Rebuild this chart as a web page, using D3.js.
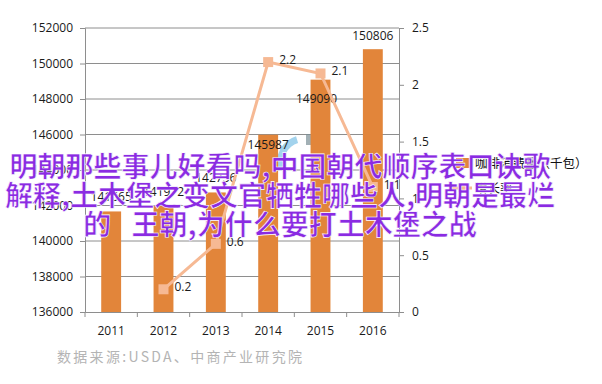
<!DOCTYPE html>
<html>
<head>
<meta charset="utf-8">
<script src="https://cdn.jsdelivr.net/npm/d3@7"></script>
<style>
  body { margin: 0; background: #fff; }
  svg { display: block; }
</style>
</head>
<body>
<svg id="chart" width="602" height="384"></svg>
<script>
// data
const years = ["2011", "2012", "2013", "2014", "2015", "2016"];
const consumption = [141665, 141972, 142736, 145987, 149090, 150806];
const growth = [null, 0.2, 0.6, 2.2, 2.1, 1.1];
const leftTicks = [136000, 138000, 140000, 142000, 144000, 146000, 148000, 150000, 152000];
const rightTicks = [0, 0.5, 1, 1.5, 2, 2.5];
const legendNames = ["咖啡消费量（千包）", "增长率"];
const titleLines = ["明朝那些事儿好看吗,中国朝代顺序表口诀歌", "解释,土木堡之变文官牺牲哪些人,明朝是最烂", "的 王朝,为什么要打土木堡之战"];
const source = "数据来源:USDA、中商产业研究院";

const svg = d3.select("#chart");
const plotL = 85, plotR = 399, plotT = 28, plotB = 312;
const barColor = "#e2853a", lineColor = "#f6b994", gridColor = "#8e8e8e";
const numFont = "'Open Sans', sans-serif";

const x = d3.scaleBand().domain(years).range([plotL, plotR]).padding(0);
const y = d3.scaleLinear().domain([136000, 152000]).range([plotB, plotT]);
const y2 = d3.scaleLinear().domain([0, 2.5]).range([plotB, plotT]);

// gridlines
svg.append("g").selectAll("line")
  .data(leftTicks.slice(1))
  .enter().append("line")
  .attr("x1", plotL).attr("x2", plotR)
  .attr("y1", d => y(d)).attr("y2", d => y(d))
  .attr("stroke", gridColor).attr("stroke-width", 1);

// left axis
const gl = svg.append("g").attr("transform", `translate(${plotL},0)`)
  .call(d3.axisLeft(y).tickValues(leftTicks).tickSize(5).tickPadding(7).tickFormat(d3.format("d")));
// right axis
const gr = svg.append("g").attr("transform", `translate(${plotR},0)`)
  .call(d3.axisRight(y2).tickValues(rightTicks).tickSize(5).tickPadding(8).tickFormat(d => d));
// bottom axis
const gb = svg.append("g").attr("transform", `translate(0,${plotB})`)
  .call(d3.axisBottom(x).tickSize(0).tickPadding(14));
svg.append("g").selectAll("line")
  .data(d3.range(years.length + 1))
  .enter().append("line")
  .attr("x1", i => plotL + i * x.step()).attr("x2", i => plotL + i * x.step())
  .attr("y1", plotB).attr("y2", plotB + 5)
  .attr("stroke", gridColor);

[gl, gr, gb].forEach(g => {
  g.select(".domain").attr("stroke", gridColor);
  g.selectAll(".tick line").attr("stroke", gridColor);
  g.selectAll("text").attr("fill", "#1a1a1a").style("font-family", numFont).style("font-size", "12px");
});

// faint watermark arc
svg.append("path")
  .attr("d", d3.arc()({ innerRadius: 20, outerRadius: 27, startAngle: -1.9, endAngle: -0.3 }))
  .attr("transform", "translate(304,162)")
  .attr("fill", "#8cc8e8").attr("opacity", 0.8);
svg.append("rect").attr("x", 306).attr("y", 134).attr("width", 12).attr("height", 11)
  .attr("fill", "#7a8e95").attr("opacity", 0.7);

// bars
const bw = x.bandwidth() * 0.38;
svg.append("g").selectAll("rect")
  .data(consumption)
  .enter().append("rect")
  .attr("x", (d, i) => x(years[i]) + x.bandwidth() / 2 - bw / 2)
  .attr("width", bw)
  .attr("y", d => y(d))
  .attr("height", d => plotB - y(d))
  .attr("fill", barColor);

// bar labels (excel nudged two of them down)
const barLabelDy = [-10, -10, -10, 14, 23, -9];
svg.append("g").selectAll("text")
  .data(consumption)
  .enter().append("text")
  .attr("x", (d, i) => x(years[i]) + x.bandwidth() / 2 + (i == 4 ? -4 : 0))
  .attr("y", (d, i) => y(d) + barLabelDy[i])
  .attr("text-anchor", "middle")
  .style("font-family", numFont).style("font-size", "12px")
  .attr("fill", "#1a1a1a")
  .text(d => d);

// growth line
const pts = growth.map((g, i) => ({ year: years[i], v: g })).filter(d => d.v != null);
const line = d3.line()
  .x(d => x(d.year) + x.bandwidth() / 2)
  .y(d => y2(d.v));
svg.append("path").datum(pts)
  .attr("d", line)
  .attr("fill", "none")
  .attr("stroke", lineColor)
  .attr("stroke-width", 3);
svg.append("g").selectAll("rect")
  .data(pts)
  .enter().append("rect")
  .attr("x", d => x(d.year) + x.bandwidth() / 2 - 5)
  .attr("y", d => y2(d.v) - 5)
  .attr("width", 10).attr("height", 10)
  .attr("fill", lineColor);
svg.append("g").selectAll("text")
  .data(pts)
  .enter().append("text")
  .attr("x", d => x(d.year) + x.bandwidth() / 2 + 11)
  .attr("y", d => y2(d.v) + 2)
  .style("font-family", numFont).style("font-size", "12px")
  .attr("fill", "#1a1a1a")
  .text(d => d.v);

// legend
const legend = svg.append("g").attr("transform", "translate(456,163)");
legend.append("rect").attr("x", 0).attr("y", -5).attr("width", 14).attr("height", 10).attr("fill", barColor);
legend.append("line").attr("x1", -4).attr("x2", 16).attr("y1", 25).attr("y2", 25)
  .attr("stroke", lineColor).attr("stroke-width", 3);
legend.append("rect").attr("x", 2).attr("y", 21).attr("width", 8).attr("height", 8).attr("fill", lineColor);
legend.selectAll("text.lg")
  .data(legendNames)
  .enter().append("text")
  .attr("x", 19)
  .attr("y", (d, i) => 5 + i * 25)
  .style("font-family", "'Noto Sans CJK SC', sans-serif").style("font-size", "12.5px")
  .attr("fill", "#111")
  .text(d => d);

// source note
svg.append("text")
  .attr("x", 57).attr("y", 362)
  .style("font-family", "'Noto Sans CJK SC', sans-serif").style("font-size", "14px")
  .style("letter-spacing", "2.3px")
  .attr("fill", "#b4b4b4")
  .text(source);

// big overlaid title
svg.append("g").selectAll("text")
  .data(titleLines)
  .enter().append("text")
  .attr("x", 280)
  .attr("y", (d, i) => 177 + i * 29)
  .attr("text-anchor", "middle")
  .style("font-family", "'Noto Sans CJK SC', sans-serif").style("font-size", "28px")
  .style("font-weight", "bold")
  .style("white-space", "pre")
  .style("word-spacing", "14px")
  .attr("fill", "#8a2be2")
  .attr("stroke", "#fff").attr("stroke-width", 0.6)
  .text(d => d);
</script>
</body>
</html>
